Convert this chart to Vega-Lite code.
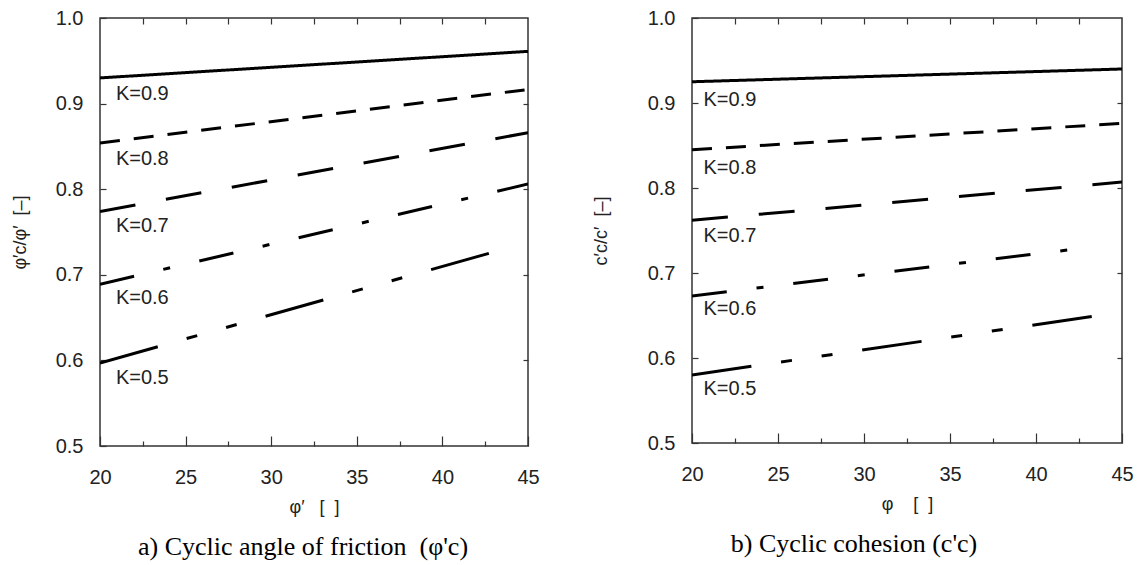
{
  "$schema": "https://vega.github.io/schema/vega-lite/v6.json",
  "padding": {"left": 10, "top": 7, "right": 5, "bottom": 2},
  "background": "white",
  "bounds": "flush",
  "spacing": 164,
  "config": {
    "view": {"stroke": "#333333", "strokeWidth": 1.5},
    "font": "Liberation Sans",
    "axis": {
      "domain": false,
      "grid": false,
      "labelFlush": false,
      "labelOverlap": false,
      "tickColor": "#333333",
      "tickWidth": 1.2,
      "labelFont": "Liberation Sans",
      "labelFontSize": 20,
      "labelColor": "#222222",
      "titleFont": "Liberation Sans",
      "titleFontSize": 18,
      "titleFontWeight": "normal",
      "titleColor": "#222222"
    },
    "title": {"font": "Liberation Serif", "fontSize": 26, "fontWeight": "normal", "color": "#000000"}
  },
  "datasets": {
    "linesA": [
      {"K": "0.9", "phi": 20, "r": 0.930}, {"K": "0.9", "phi": 45, "r": 0.961},
      {"K": "0.8", "phi": 20, "r": 0.854}, {"K": "0.8", "phi": 44.8, "r": 0.916},
      {"K": "0.7", "phi": 20, "r": 0.774}, {"K": "0.7", "phi": 45, "r": 0.866},
      {"K": "0.6", "phi": 20, "r": 0.689}, {"K": "0.6", "phi": 45, "r": 0.806},
      {"K": "0.5", "phi": 20, "r": 0.597}, {"K": "0.5", "phi": 43.6, "r": 0.730}
    ],
    "labelsA": [
      {"text": "K=0.9", "phi": 20.93, "r": 0.911},
      {"text": "K=0.8", "phi": 20.93, "r": 0.835},
      {"text": "K=0.7", "phi": 20.93, "r": 0.757},
      {"text": "K=0.6", "phi": 20.93, "r": 0.673},
      {"text": "K=0.5", "phi": 20.93, "r": 0.580}
    ],
    "linesB": [
      {"K": "0.9", "phi": 20, "r": 0.925}, {"K": "0.9", "phi": 45, "r": 0.940},
      {"K": "0.8", "phi": 20, "r": 0.845}, {"K": "0.8", "phi": 45, "r": 0.876},
      {"K": "0.7", "phi": 20, "r": 0.762}, {"K": "0.7", "phi": 45, "r": 0.807},
      {"K": "0.6", "phi": 20, "r": 0.673}, {"K": "0.6", "phi": 43.05, "r": 0.730},
      {"K": "0.5", "phi": 20, "r": 0.580}, {"K": "0.5", "phi": 44.3, "r": 0.652}
    ],
    "labelsB": [
      {"text": "K=0.9", "phi": 20.67, "r": 0.903},
      {"text": "K=0.8", "phi": 20.67, "r": 0.823},
      {"text": "K=0.7", "phi": 20.67, "r": 0.744},
      {"text": "K=0.6", "phi": 20.67, "r": 0.658},
      {"text": "K=0.5", "phi": 20.67, "r": 0.563}
    ]
  },
  "hconcat": [
    {
      "width": 428,
      "height": 428,
      "title": {"text": "a) Cyclic angle of friction\u00a0\u00a0(φ'c)", "orient": "bottom", "anchor": "middle", "frame": "group", "offset": 18, "dx": -11},
      "resolve": {"axis": {"x": "independent", "y": "independent"}},
      "layer": [
        {
          "data": {"name": "linesA"},
          "mark": {"type": "line", "color": "black", "strokeWidth": 3, "clip": true},
          "encoding": {
            "x": {"field": "phi", "type": "quantitative", "scale": {"domain": [20, 45], "nice": false, "zero": false},
              "axis": {"orient": "bottom", "values": [20, 25, 30, 35, 40, 45], "tickSize": -10, "labelPadding": 31, "title": "φ′\u00a0\u00a0\u00a0[\u00a0\u00a0]", "titlePadding": 11, "format": "d"}},
            "y": {"field": "r", "type": "quantitative", "scale": {"domain": [0.5, 1.0], "nice": false, "zero": false},
              "axis": {"orient": "left", "values": [0.5, 0.6, 0.7, 0.8, 0.9, 1.0], "tickSize": -6, "labelPadding": 23, "format": ".1f", "title": "φ′c/φ′\u00a0\u00a0[–]", "titlePadding": 26}},
            "detail": {"field": "K"},
            "strokeDash": {"field": "K", "type": "nominal", "legend": null,
              "scale": {"domain": ["0.9", "0.8", "0.7", "0.6", "0.5"], "range": [[1, 0], [20, 14], [36, 31], [35, 30, 7, 30], [60, 30, 11, 30, 11, 30]]}}
          }
        },
        {
          "data": {"name": "labelsA"},
          "mark": {"type": "text", "align": "left", "baseline": "middle", "fontSize": 20, "font": "Liberation Sans", "color": "#222222"},
          "encoding": {
            "x": {"field": "phi", "type": "quantitative", "axis": {"orient": "bottom", "values": [22.5, 27.5, 32.5, 37.5, 42.5], "tickSize": -5, "labels": false, "title": null}},
            "y": {"field": "r", "type": "quantitative", "axis": {"orient": "right", "values": [0.6, 0.7, 0.8, 0.9], "tickSize": -5, "labels": false, "title": null}},
            "text": {"field": "text"}
          }
        },
        {
          "data": {"name": "labelsA"},
          "mark": {"type": "point", "opacity": 0},
          "encoding": {
            "x": {"field": "phi", "type": "quantitative", "axis": {"orient": "top", "values": [22.5, 25, 27.5, 30, 32.5, 35, 37.5, 40, 42.5], "tickSize": -6, "labels": false, "title": null}},
            "y": {"field": "r", "type": "quantitative", "axis": null}
          }
        }
      ]
    },
    {
      "width": 430,
      "height": 425,
      "title": {"text": "b) Cyclic cohesion (c'c)", "orient": "bottom", "anchor": "middle", "frame": "group", "offset": 18, "dx": -53},
      "resolve": {"axis": {"x": "independent", "y": "independent"}},
      "layer": [
        {
          "data": {"name": "linesB"},
          "mark": {"type": "line", "color": "black", "strokeWidth": 3, "clip": true},
          "encoding": {
            "x": {"field": "phi", "type": "quantitative", "scale": {"domain": [20, 45], "nice": false, "zero": false},
              "axis": {"orient": "bottom", "values": [20, 25, 30, 35, 40, 45], "tickSize": -10, "labelPadding": 31, "title": "φ\u00a0\u00a0\u00a0\u00a0[\u00a0\u00a0]", "titlePadding": 11, "format": "d"}},
            "y": {"field": "r", "type": "quantitative", "scale": {"domain": [0.5, 1.0], "nice": false, "zero": false},
              "axis": {"orient": "left", "values": [0.5, 0.6, 0.7, 0.8, 0.9, 1.0], "tickSize": -6, "labelPadding": 23, "format": ".1f", "title": "c′c/c′\u00a0\u00a0[–]", "titlePadding": 37}},
            "detail": {"field": "K"},
            "strokeDash": {"field": "K", "type": "nominal", "legend": null,
              "scale": {"domain": ["0.9", "0.8", "0.7", "0.6", "0.5"], "range": [[1, 0], [20, 14], [35, 33], [35, 33, 6, 33], [60, 31, 11, 32, 11, 32]]}}
          }
        },
        {
          "data": {"name": "labelsB"},
          "mark": {"type": "text", "align": "left", "baseline": "middle", "fontSize": 20, "font": "Liberation Sans", "color": "#222222"},
          "encoding": {
            "x": {"field": "phi", "type": "quantitative", "axis": {"orient": "bottom", "values": [22.5, 27.5, 32.5, 37.5, 42.5], "tickSize": -5, "labels": false, "title": null}},
            "y": {"field": "r", "type": "quantitative", "axis": {"orient": "right", "values": [0.6, 0.7, 0.8, 0.9], "tickSize": -5, "labels": false, "title": null}},
            "text": {"field": "text"}
          }
        },
        {
          "data": {"name": "labelsB"},
          "mark": {"type": "point", "opacity": 0},
          "encoding": {
            "x": {"field": "phi", "type": "quantitative", "axis": {"orient": "top", "values": [22.5, 25, 27.5, 30, 32.5, 35, 37.5, 40, 42.5], "tickSize": -6, "labels": false, "title": null}},
            "y": {"field": "r", "type": "quantitative", "axis": null}
          }
        }
      ]
    }
  ]
}
